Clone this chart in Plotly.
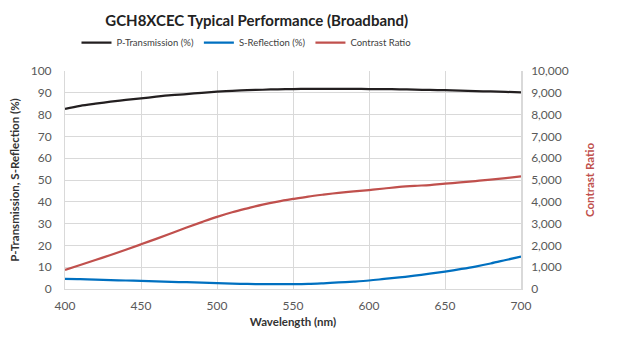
import plotly.graph_objects as go

wavelength = [400, 410, 420, 430, 440, 450, 460, 470, 480, 490, 500, 510, 520, 530, 540, 550,
              560, 570, 580, 590, 600, 610, 620, 630, 640, 650, 660, 670, 680, 690, 700]
p_transmission = [82.6, 84.0, 85.0, 85.9, 86.7, 87.4, 88.2, 88.9, 89.4, 90.0, 90.5, 90.9, 91.2, 91.4, 91.6, 91.7,
                  91.8, 91.8, 91.8, 91.8, 91.7, 91.7, 91.6, 91.5, 91.3, 91.2, 91.0, 90.8, 90.6, 90.4, 90.2]
s_reflection = [4.6, 4.5, 4.3, 4.1, 3.9, 3.7, 3.5, 3.3, 3.1, 2.9, 2.7, 2.5, 2.3, 2.2, 2.2, 2.2,
                2.3, 2.6, 3.0, 3.4, 3.9, 4.6, 5.3, 6.1, 7.0, 8.0, 9.1, 10.3, 11.7, 13.3, 14.9]
contrast_ratio = [880, 1100, 1330, 1560, 1800, 2050, 2300, 2560, 2820, 3070, 3310, 3520, 3700, 3870, 4010, 4130,
                  4240, 4330, 4410, 4480, 4540, 4610, 4680, 4730, 4770, 4830, 4890, 4950, 5020, 5090, 5170]

FONT = "Lato"
GRID = "#d9d9d9"
TICK = "#595959"

fig = go.Figure()
fig.add_trace(go.Scatter(x=wavelength, y=p_transmission, name="P-Transmission (%)", mode="lines",
                         line=dict(color="#231f20", width=2.25, shape="spline")))
fig.add_trace(go.Scatter(x=wavelength, y=s_reflection, name="S-Reflection (%)", mode="lines",
                         line=dict(color="#0070c0", width=2.25, shape="spline")))
fig.add_trace(go.Scatter(x=wavelength, y=contrast_ratio, name="Contrast Ratio", mode="lines",
                         line=dict(color="#c0504d", width=2.25, shape="spline"), yaxis="y2"))

fig.update_layout(
    width=620, height=338,
    margin=dict(l=65, r=99, t=71, b=49, autoexpand=False),
    paper_bgcolor="white", plot_bgcolor="white",
    font=dict(family=FONT, size=12, color=TICK),
    title=dict(text="<b>GCH8XCEC Typical Performance (Broadband)</b>", x=0.414, xanchor="center",
               y=0.94, yanchor="middle", font=dict(family=FONT, size=15, color="#222222")),
    legend=dict(orientation="h", x=0.398, xanchor="center", y=1.13, yanchor="middle",
                font=dict(family=FONT, size=9.5, color="#404040"), itemwidth=30,
                bgcolor="rgba(0,0,0,0)", tracegroupgap=0),
    xaxis=dict(range=[400, 700], tickvals=[400, 450, 500, 550, 600, 650, 700], showgrid=True,
               gridcolor=GRID, gridwidth=1, zeroline=False, showline=True, linecolor=GRID, linewidth=1,
               mirror=False, ticks="", tickfont=dict(size=12, color=TICK), ticklabelstandoff=6,
               title=dict(text="<b>Wavelength (nm)</b>", font=dict(size=11.5, color="#333333"), standoff=5)),
    yaxis=dict(range=[0, 100], tickvals=list(range(0, 101, 10)), showgrid=True, gridcolor=GRID, gridwidth=1,
               zeroline=False, showline=True, linecolor=GRID, linewidth=1, ticks="",
               tickfont=dict(size=12, color=TICK), ticklabelstandoff=10,
               title=dict(text="<b>P-Transmission, S-Reflection (%)</b>", font=dict(size=11.5, color="#333333"),
                          standoff=8)),
    yaxis2=dict(range=[0, 10000], tickvals=list(range(0, 10001, 1000)), overlaying="y", side="right",
                showgrid=False, zeroline=False, showline=True, linecolor=GRID, linewidth=1.5, ticks="",
                tickformat=",d", tickfont=dict(size=12, color=TICK), ticklabelstandoff=6,
                title=dict(text="<b>Contrast Ratio</b>", font=dict(size=11.5, color="#c0504d"), standoff=18)),
)

fig.write_html("out.html", config={"displayModeBar": False},
               post_script="document.body.style.margin='0';")
